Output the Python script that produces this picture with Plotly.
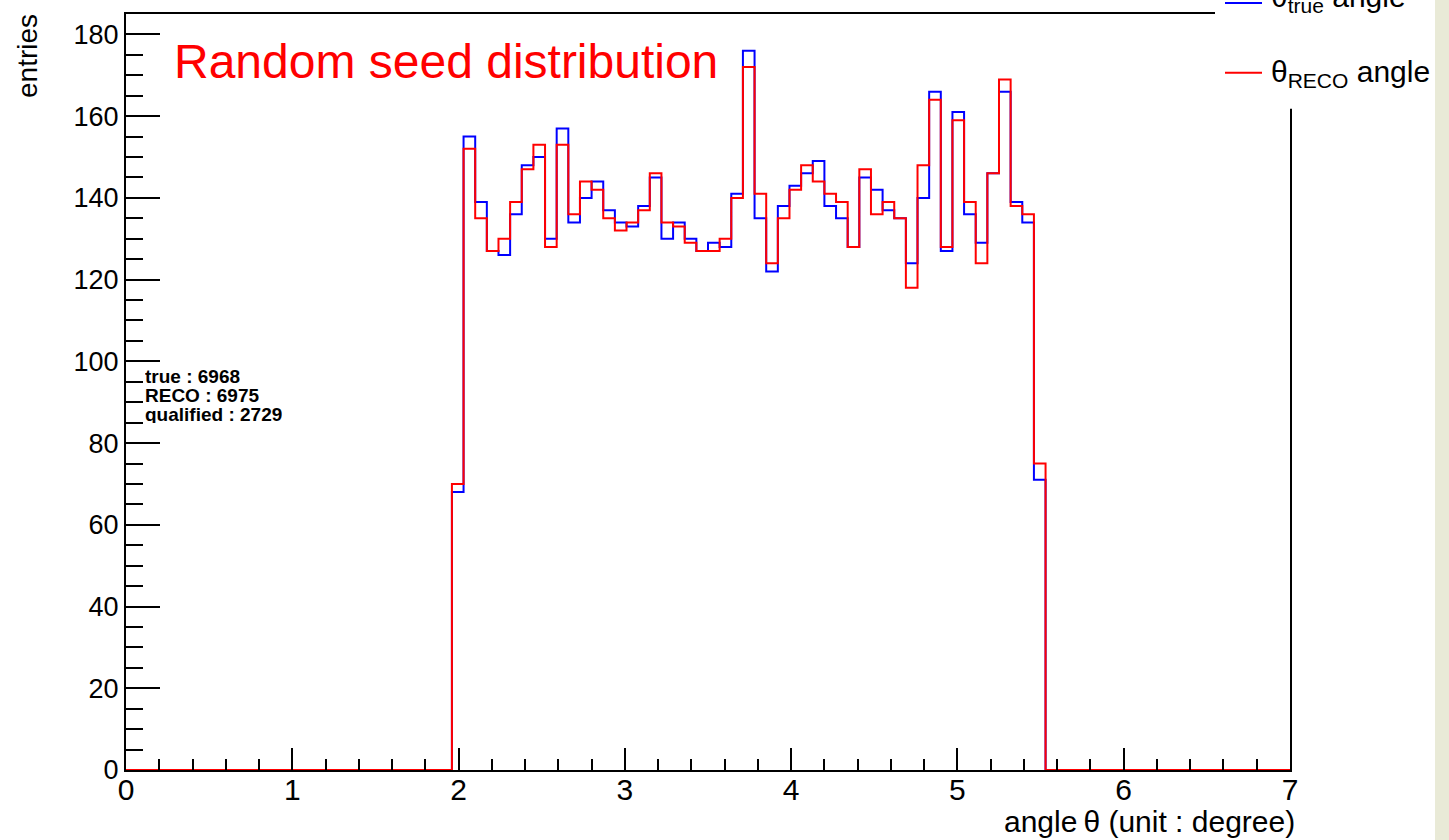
import plotly.graph_objects as go

# ---------------- data ----------------
x_min, x_max, n_bins = 0.0, 7.0, 100
first_bin = 28  # index of first non-empty bin
true_counts = [68, 155, 139, 127, 126, 136, 148, 150, 130, 157, 134, 140, 144, 137, 134, 133,
               138, 145, 130, 134, 130, 127, 129, 128, 141, 176, 135, 122, 138, 143, 146, 149,
               138, 135, 128, 145, 142, 137, 135, 124, 140, 166, 127, 161, 136, 129, 146, 166,
               139, 134, 71]
reco_counts = [70, 152, 135, 127, 130, 139, 147, 153, 128, 153, 136, 144, 142, 135, 132, 134,
               137, 146, 134, 133, 129, 127, 127, 130, 140, 172, 141, 124, 135, 142, 148, 144,
               141, 139, 128, 147, 136, 139, 135, 118, 148, 164, 128, 159, 139, 124, 146, 169,
               138, 136, 75]
stats_lines = ["true : 6968", "RECO : 6975", "qualified : 2729"]
title_text = "Random seed distribution"
x_title = "angle\u2009θ (unit : degree)"
y_title = "entries"
legend_labels = ["θ<sub>true</sub> angle", "θ<sub>RECO</sub> angle"]
y_max = 185

# ---------------- geometry ----------------
W, H = 1449, 840
L, R, T, B = 126, 159, 12, 70
PW, PH = W - L - R, H - T - B


def px2x(px):
    return (px - L) / PW


def py2y(py):
    return 1 - (py - T) / PH


bin_w = (x_max - x_min) / n_bins
edges = [x_min + i * bin_w for i in range(n_bins + 1)]


def full(counts):
    vals = [0] * n_bins
    for i, c in enumerate(counts):
        vals[first_bin + i] = c
    return vals + [vals[-1]]


FONT = "Liberation Sans, Arial, Helvetica, sans-serif"

fig = go.Figure()
fig.add_trace(go.Scatter(x=edges, y=full(true_counts), mode="lines", line_shape="hv",
                         line=dict(color="#0000FF", width=2), showlegend=False, hoverinfo="skip"))
fig.add_trace(go.Scatter(x=edges, y=full(reco_counts), mode="lines", line_shape="hv",
                         line=dict(color="#FF0000", width=2), showlegend=False, hoverinfo="skip"))

annotations = [
    dict(text=title_text, x=px2x(172), y=py2y(60), xanchor="left", yanchor="middle",
         font=dict(size=48, color="#FF0000", family=FONT)),
    dict(text=x_title, x=px2x(1297), y=py2y(822), xanchor="right", yanchor="middle",
         font=dict(size=30, color="black", family=FONT)),
    dict(text=y_title, x=px2x(27), y=py2y(10), xanchor="center", yanchor="top", textangle=-90,
         font=dict(size=28, color="black", family=FONT)),
]
for i, s in enumerate(stats_lines):
    annotations.append(dict(text="<b>" + s + "</b>", x=px2x(143), y=py2y(375 + 19 * i),
                            xanchor="left", yanchor="middle", height=18, valign="middle",
                            font=dict(size=19, color="black", family=FONT)))
leg_y = [-4, 72]
for lab, yy in zip(legend_labels, leg_y):
    annotations.append(dict(text=lab, x=px2x(1269), y=py2y(yy), xanchor="left", yanchor="middle",
                            font=dict(size=30, color="black", family=FONT)))
for a in annotations:
    a.update(xref="paper", yref="paper", showarrow=False)

shapes = [
    # legend box (white) hiding the frame corner
    dict(type="rect", xref="paper", yref="paper", x0=px2x(1215), x1=px2x(1435),
         y0=py2y(107), y1=py2y(-10), fillcolor="white", line=dict(width=0), layer="above"),
    # beige strip on the right
    dict(type="rect", xref="paper", yref="paper", x0=px2x(1435), x1=px2x(1460),
         y0=py2y(H + 10), y1=py2y(-10), fillcolor="#E9EAD7", line=dict(width=0), layer="above"),
    dict(type="line", xref="paper", yref="paper", x0=px2x(1225), x1=px2x(1262),
         y0=py2y(1), y1=py2y(1), line=dict(color="#0000FF", width=2), layer="above"),
    dict(type="line", xref="paper", yref="paper", x0=px2x(1225), x1=px2x(1262),
         y0=py2y(71), y1=py2y(71), line=dict(color="#FF0000", width=2), layer="above"),
]

fig.update_layout(
    width=W, height=H, autosize=False,
    margin=dict(l=L, r=R, t=T, b=B, pad=0),
    paper_bgcolor="white", plot_bgcolor="white",
    showlegend=False,
    annotations=annotations, shapes=shapes,
    font=dict(family=FONT, color="black"),
)
fig.update_xaxes(range=[x_min, x_max], showgrid=False, zeroline=False,
                 showline=True, linecolor="black", linewidth=2, mirror=True,
                 ticks="inside", ticklen=22, tickwidth=2, tickcolor="black",
                 tickmode="linear", tick0=0, dtick=1, ticklabelstandoff=-8,
                 minor=dict(ticks="inside", ticklen=11, tickwidth=2, tickcolor="black", dtick=0.2,
                            showgrid=False),
                 tickfont=dict(size=30, family=FONT, color="black"))
fig.update_yaxes(range=[0, y_max], showgrid=False, zeroline=False,
                 showline=True, linecolor="black", linewidth=2, mirror=True,
                 ticks="inside", ticklen=34, tickwidth=2, tickcolor="black",
                 tickmode="linear", tick0=0, dtick=20,
                 minor=dict(ticks="inside", ticklen=17, tickwidth=2, tickcolor="black", dtick=5,
                            showgrid=False),
                 tickfont=dict(size=27, family=FONT, color="black"))

fig.write_html("out.html", config=dict(displayModeBar=False),
               post_script="document.body.style.margin='0';document.body.style.overflow='hidden';")
